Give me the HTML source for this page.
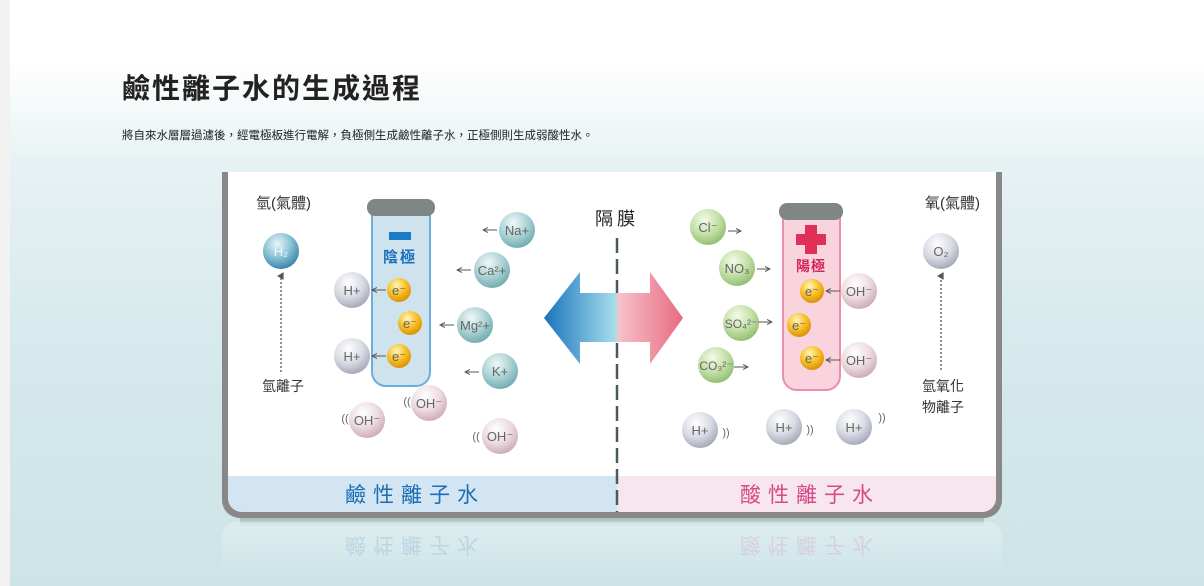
<!DOCTYPE html>
<html><head><meta charset="utf-8"><style>
html,body{margin:0;padding:0;}
body{width:1204px;height:586px;overflow:hidden;background:linear-gradient(#fff 0px,#fff 60px,#e6f1f3 170px,#d6e9ec 350px,#cde4e7 586px);position:relative;font-family:"Liberation Sans","Noto Sans CJK TC",sans-serif;}
svg{position:absolute;left:0;top:0;}
text{font-family:"Liberation Sans","Noto Sans CJK TC",sans-serif;}
</style></head><body>
<svg width="1204" height="586" viewBox="0 0 1204 586">
<defs>
<radialGradient id="gb" cx="0.4" cy="0.3" r="0.75"><stop offset="0" stop-color="#e8f4f8"/><stop offset="0.5" stop-color="#8cc3d6"/><stop offset="1" stop-color="#2f7ea3"/></radialGradient>
<radialGradient id="gg" cx="0.4" cy="0.3" r="0.75"><stop offset="0" stop-color="#ffffff"/><stop offset="0.55" stop-color="#d7dae3"/><stop offset="1" stop-color="#9ea3b4"/></radialGradient>
<radialGradient id="gt" cx="0.4" cy="0.3" r="0.75"><stop offset="0" stop-color="#f0f8f8"/><stop offset="0.55" stop-color="#a9d1d3"/><stop offset="1" stop-color="#6aa8ae"/></radialGradient>
<radialGradient id="gp" cx="0.4" cy="0.3" r="0.75"><stop offset="0" stop-color="#ffffff"/><stop offset="0.55" stop-color="#ecdadf"/><stop offset="1" stop-color="#c8a7b0"/></radialGradient>
<radialGradient id="ggr" cx="0.4" cy="0.3" r="0.75"><stop offset="0" stop-color="#f4faea"/><stop offset="0.55" stop-color="#c3dfa6"/><stop offset="1" stop-color="#8cbb6a"/></radialGradient>
<radialGradient id="gy" cx="0.4" cy="0.3" r="0.75"><stop offset="0" stop-color="#fff7c0"/><stop offset="0.5" stop-color="#f8c22a"/><stop offset="1" stop-color="#d88a00"/></radialGradient>
<linearGradient id="ab" x1="0" x2="1"><stop offset="0" stop-color="#1a73bd"/><stop offset="1" stop-color="#a8e0ec"/></linearGradient>
<linearGradient id="ap" x1="0" x2="1"><stop offset="0" stop-color="#f6c4cb"/><stop offset="1" stop-color="#e86a80"/></linearGradient>
<linearGradient id="refl" x1="0" y1="0" x2="0" y2="1"><stop offset="0" stop-color="#fff" stop-opacity="0.3"/><stop offset="1" stop-color="#fff" stop-opacity="0"/></linearGradient>
<linearGradient id="shd" x1="0" y1="0" x2="0" y2="1"><stop offset="0" stop-color="#7a8c8e" stop-opacity="0.5"/><stop offset="1" stop-color="#7a8c8e" stop-opacity="0"/></linearGradient>
<marker id="ar" markerWidth="6" markerHeight="6" refX="5" refY="3" orient="auto"><path d="M0,0.5 L5,3 L0,5.5" fill="none" stroke="#555" stroke-width="1"/></marker>
<marker id="au" markerWidth="6" markerHeight="6" refX="3" refY="3" orient="auto"><path d="M0,5 L3,0 L6,5Z" fill="#555"/></marker>
</defs>
<rect x="0" y="0" width="10" height="586" fill="#f2f2f2"/>
<text x="122" y="98" font-size="28" fill="#222" font-weight="bold" letter-spacing="2">鹼性離子水的生成過程</text>
<text x="122" y="139" font-size="11.5" fill="#222">將自來水層層過濾後，經電極板進行電解，負極側生成鹼性離子水，正極側則生成弱酸性水。</text>
<!-- reflection -->
<rect x="240" y="517" width="744" height="10" fill="url(#shd)"/>
<rect x="222" y="522" width="780" height="56" rx="14" fill="url(#refl)"/>
<g opacity="0.15" transform="translate(0,1038) scale(1,-1)">
<text x="415" y="500" font-size="21" fill="#1c6fb5" text-anchor="middle" letter-spacing="7">鹼性離子水</text>
<text x="810" y="500" font-size="21" fill="#d64a86" text-anchor="middle" letter-spacing="7">酸性離子水</text>
</g>
<!-- panel -->
<path d="M222,172 V500 a18,18 0 0 0 18,18 H984 a18,18 0 0 0 18,-18 V172 Z" fill="#888"/>
<path d="M228,172 V498 a14,14 0 0 0 14,14 H982 a14,14 0 0 0 14,-14 V172 Z" fill="#fff"/>
<path d="M228,476 H617 V512 H242 a14,14 0 0 1 -14,-14Z" fill="#d3e5f2"/>
<path d="M617,476 H996 V498 a14,14 0 0 1 -14,14 H617Z" fill="#f7e6ee"/>
<text x="415" y="502" font-size="21" fill="#1c6fb5" text-anchor="middle" letter-spacing="7">鹼性離子水</text>
<text x="810" y="502" font-size="21" fill="#d64a86" text-anchor="middle" letter-spacing="7">酸性離子水</text>
<line x1="617" y1="238" x2="617" y2="512" stroke="#4a5a60" stroke-width="2.5" stroke-dasharray="15,6"/>
<text x="617" y="225" font-size="18" fill="#222" text-anchor="middle" letter-spacing="4">隔膜</text>
<!-- arrows -->
<path d="M544,318 L580,272 V293 H617 V342 H580 V364 Z" fill="url(#ab)"/>
<path d="M683,318 L650,272 V293 H617 V342 H650 V364 Z" fill="url(#ap)"/>
<!-- labels -->
<text x="256" y="208" font-size="15" fill="#333">氫(氣體)</text>
<text x="925" y="208" font-size="15" fill="#333">氧(氣體)</text>
<text x="283" y="391" font-size="14" fill="#333" text-anchor="middle">氫離子</text>
<text x="943" y="391" font-size="14" fill="#333" text-anchor="middle">氫氧化</text>
<text x="943" y="412" font-size="14" fill="#333" text-anchor="middle">物離子</text>
<line x1="281" y1="372" x2="281" y2="276" stroke="#555" stroke-width="1.3" stroke-dasharray="2,2" marker-end="url(#au)"/>
<line x1="941" y1="370" x2="941" y2="276" stroke="#555" stroke-width="1.3" stroke-dasharray="2,2" marker-end="url(#au)"/>
<!-- left tube -->
<path d="M372,212 V372 a14,14 0 0 0 14,14 H416 a14,14 0 0 0 14,-14 V212" fill="#cfe3ef" stroke="#6aaedc" stroke-width="2"/>
<rect x="367" y="199" width="68" height="17" rx="8" fill="#808586"/>
<rect x="389" y="232" width="22" height="8" fill="#1a7bc6"/>
<text x="400" y="262" font-size="15" fill="#1a6fb8" font-weight="bold" text-anchor="middle" letter-spacing="2">陰極</text>
<!-- right tube -->
<path d="M783,213 V376 a14,14 0 0 0 14,14 H826 a14,14 0 0 0 14,-14 V213" fill="#f9d3dd" stroke="#e990a8" stroke-width="2"/>
<rect x="779" y="203" width="64" height="17" rx="8" fill="#808586"/>
<path d="M805,225 h12 v9 h9 v11 h-9 v9 h-12 v-9 h-9 v-11 h9z" fill="#e0305a"/>
<text x="811" y="271" font-size="14" fill="#d4245a" font-weight="bold" text-anchor="middle" letter-spacing="1">陽極</text>
<!-- spheres -->
<g font-size="13" fill="#666" text-anchor="middle">
<circle cx="281" cy="251" r="18" fill="url(#gb)"/><text x="281" y="256" fill="#f2f8fb">H₂</text>
<circle cx="941" cy="251" r="18" fill="url(#gg)"/><text x="941" y="256">O₂</text>
<circle cx="352" cy="290" r="18" fill="url(#gg)"/><text x="352" y="295">H+</text>
<circle cx="352" cy="356" r="18" fill="url(#gg)"/><text x="352" y="361">H+</text>
<circle cx="399" cy="290" r="12" fill="url(#gy)"/><text x="399" y="295">e⁻</text>
<circle cx="410" cy="323" r="12" fill="url(#gy)"/><text x="410" y="328">e⁻</text>
<circle cx="399" cy="356" r="12" fill="url(#gy)"/><text x="399" y="361">e⁻</text>
<line x1="386" y1="290" x2="372" y2="290" stroke="#555" marker-end="url(#ar)"/>
<line x1="386" y1="356" x2="372" y2="356" stroke="#555" marker-end="url(#ar)"/>
<circle cx="517" cy="230" r="18" fill="url(#gt)"/><text x="517" y="235">Na+</text>
<circle cx="492" cy="270" r="18" fill="url(#gt)"/><text x="492" y="275">Ca²+</text>
<circle cx="475" cy="325" r="18" fill="url(#gt)"/><text x="475" y="330">Mg²+</text>
<circle cx="500" cy="371" r="18" fill="url(#gt)"/><text x="500" y="376">K+</text>
<line x1="497" y1="230" x2="483" y2="230" stroke="#555" marker-end="url(#ar)"/>
<line x1="471" y1="270" x2="457" y2="270" stroke="#555" marker-end="url(#ar)"/>
<line x1="454" y1="325" x2="440" y2="325" stroke="#555" marker-end="url(#ar)"/>
<line x1="479" y1="372" x2="465" y2="372" stroke="#555" marker-end="url(#ar)"/>
<circle cx="367" cy="420" r="18" fill="url(#gp)"/><text x="367" y="425">OH⁻</text>
<circle cx="429" cy="403" r="18" fill="url(#gp)"/><text x="429" y="408">OH⁻</text>
<circle cx="500" cy="436" r="18" fill="url(#gp)"/><text x="500" y="441">OH⁻</text>
<text x="345" y="422" font-size="11">((</text><text x="407" y="405" font-size="11">((</text><text x="476" y="440" font-size="11">((</text>
<circle cx="708" cy="227" r="18" fill="url(#ggr)"/><text x="708" y="232">Cl⁻</text>
<circle cx="737" cy="268" r="18" fill="url(#ggr)"/><text x="737" y="273">NO₃</text>
<circle cx="741" cy="323" r="18" fill="url(#ggr)"/><text x="741" y="328" font-size="12">SO₄²⁻</text>
<circle cx="716" cy="365" r="18" fill="url(#ggr)"/><text x="716" y="370" font-size="12">CO₃²⁻</text>
<line x1="728" y1="231" x2="741" y2="231" stroke="#555" marker-end="url(#ar)"/>
<line x1="757" y1="269" x2="770" y2="269" stroke="#555" marker-end="url(#ar)"/>
<line x1="758" y1="322" x2="772" y2="322" stroke="#555" marker-end="url(#ar)"/>
<line x1="734" y1="367" x2="748" y2="367" stroke="#555" marker-end="url(#ar)"/>
<circle cx="812" cy="291" r="12" fill="url(#gy)"/><text x="812" y="296">e⁻</text>
<circle cx="799" cy="325" r="12" fill="url(#gy)"/><text x="799" y="330">e⁻</text>
<circle cx="812" cy="358" r="12" fill="url(#gy)"/><text x="812" y="363">e⁻</text>
<circle cx="859" cy="291" r="18" fill="url(#gp)"/><text x="859" y="296">OH⁻</text>
<circle cx="859" cy="360" r="18" fill="url(#gp)"/><text x="859" y="365">OH⁻</text>
<line x1="840" y1="291" x2="826" y2="291" stroke="#555" marker-end="url(#ar)"/>
<line x1="840" y1="360" x2="826" y2="360" stroke="#555" marker-end="url(#ar)"/>
<circle cx="700" cy="430" r="18" fill="url(#gg)"/><text x="700" y="435">H+</text>
<circle cx="784" cy="427" r="18" fill="url(#gg)"/><text x="784" y="432">H+</text>
<circle cx="854" cy="427" r="18" fill="url(#gg)"/><text x="854" y="432">H+</text>
<text x="726" y="436" font-size="11">))</text><text x="810" y="433" font-size="11">))</text><text x="882" y="421" font-size="11">))</text>
</g>
</svg>
</body></html>
